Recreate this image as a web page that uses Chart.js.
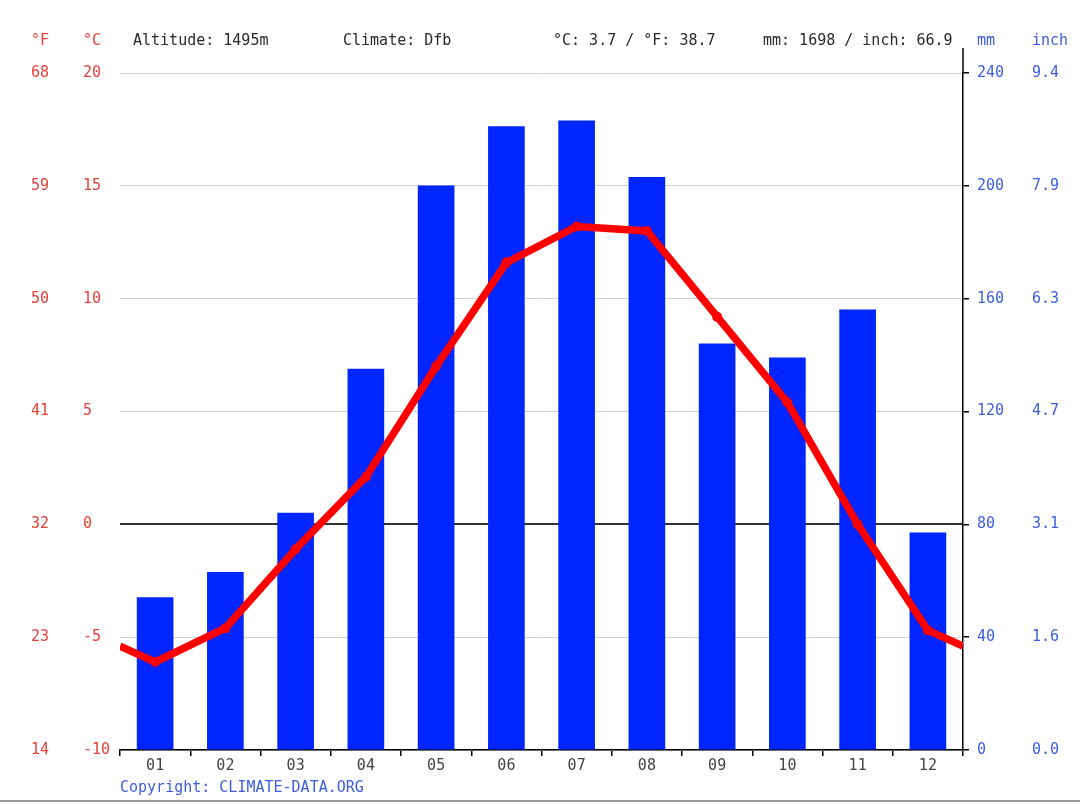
<!DOCTYPE html>
<html>
<head>
<meta charset="utf-8">
<script src="https://cdn.jsdelivr.net/npm/chart.js@4/dist/chart.umd.min.js"></script>
<style>
html,body{margin:0;padding:0;background:#fff;}
canvas{display:block;}
</style>
</head>
<body>
<canvas id="c" width="1080" height="804"></canvas>
<script>
// ---- data ----
const months = ['01','02','03','04','05','06','07','08','09','10','11','12'];
const precipitationMm = [54, 63, 84, 135, 200, 221, 223, 203, 144, 139, 156, 77];
const temperatureC = [-6.1, -4.6, -1.1, 2.1, 7.0, 11.6, 13.2, 13.0, 9.2, 5.4, 0.0, -4.7];
const edgeTempStart = -5.4;   // line value read at left plot edge
const edgeTempEnd = -5.4;     // line value read at right plot edge
const celsiusTicks = [-10, -5, 0, 5, 10, 15, 20];
const fahrenheitLabels = ['14', '23', '32', '41', '50', '59', '68'];
const mmTicks = [0, 40, 80, 120, 160, 200, 240];
const inchLabels = ['0.0', '1.6', '3.1', '4.7', '6.3', '7.9', '9.4'];
const headerTexts = {
  altitude: 'Altitude: 1495m',
  climate: 'Climate: Dfb',
  temp: '°C: 3.7 / °F: 38.7',
  precip: 'mm: 1698 / inch: 66.9'
};
const copyright = 'Copyright: CLIMATE-DATA.ORG';

// ---- style ----
const FONT = 'DejaVu Sans Mono';
const RED_TXT = '#e8403a';
const BLUE_TXT = '#3d5ee0';
const DARK_TXT = '#2a2a2a';

const barData = months.map((m, i) => ({x: i + 1, y: precipitationMm[i]}));
const lineData = [{x: 0.5, y: edgeTempStart}]
  .concat(months.map((m, i) => ({x: i + 1, y: temperatureC[i]})))
  .concat([{x: months.length + 0.5, y: edgeTempEnd}]);
const pointRadii = lineData.map((p, i) => (i === 0 || i === lineData.length - 1) ? 0 : 5);

const overlay = {
  id: 'overlay',
  afterDraw(chart) {
    const ctx = chart.ctx;
    const ca = chart.chartArea;
    ctx.save();
    ctx.font = '15px "' + FONT + '"';
    ctx.textBaseline = 'middle';
    ctx.textAlign = 'left';
    const hy = 41;
    ctx.fillStyle = RED_TXT;
    ctx.fillText('°F', chart.scales.yF.left, hy);
    ctx.fillText('°C', chart.scales.yC.left, hy);
    ctx.fillStyle = DARK_TXT;
    ctx.fillText(headerTexts.altitude, 133, hy);
    ctx.fillText(headerTexts.climate, 343, hy);
    ctx.fillText(headerTexts.temp, 553, hy);
    ctx.fillText(headerTexts.precip, 763, hy);
    ctx.fillStyle = BLUE_TXT;
    ctx.fillText('mm', chart.scales.yMM.left + 14, hy);
    ctx.fillText('inch', chart.scales.yIn.left, hy);
    // extension of right axis line above plot
    ctx.strokeStyle = '#000';
    ctx.lineWidth = 1.5;
    ctx.beginPath();
    ctx.moveTo(ca.right, 48);
    ctx.lineTo(ca.right, ca.top);
    ctx.stroke();
    // copyright
    ctx.fillStyle = BLUE_TXT;
    ctx.fillText(copyright, ca.left, 788);
    // bottom gray rule
    ctx.strokeStyle = '#9a9a9a';
    ctx.lineWidth = 2;
    ctx.beginPath();
    ctx.moveTo(0, 801);
    ctx.lineTo(1080, 801);
    ctx.stroke();
    ctx.restore();
  }
};

new Chart(document.getElementById('c'), {
  data: {
    datasets: [
      {
        type: 'line',
        label: 'Temperature',
        data: lineData,
        yAxisID: 'yC',
        xAxisID: 'x',
        borderColor: '#ff0000',
        backgroundColor: '#ff0000',
        borderWidth: 7.5,
        pointRadius: pointRadii,
        pointBackgroundColor: '#ff0000',
        pointBorderWidth: 0,
        tension: 0,
        order: 0
      },
      {
        type: 'bar',
        label: 'Precipitation',
        data: barData,
        yAxisID: 'yMM',
        xAxisID: 'x',
        backgroundColor: '#0026ff',
        barThickness: 36,
        order: 1
      }
    ]
  },
  options: {
    responsive: false,
    animation: false,
    devicePixelRatio: 1,
    layout: {padding: {left: 31, top: 73, right: 0, bottom: 0}},
    plugins: {legend: {display: false}, tooltip: {enabled: false}},
    scales: {
      x: {
        type: 'linear',
        position: 'bottom',
        offset: false,
        min: 0.5,
        max: months.length + 0.5,
        afterBuildTicks(scale) {
          const t = [];
          for (let i = 0; i <= months.length * 2; i++) t.push({value: 0.5 + i * 0.5});
          scale.ticks = t;
        },
        afterFit(scale) { scale.height = 54; },
        ticks: {
          autoSkip: false,
          maxRotation: 0,
          padding: 1,
          color: '#444',
          font: {family: FONT, size: 15},
          callback(v) { return Number.isInteger(v) ? months[v - 1] : ''; }
        },
        grid: {
          offset: false,
          drawOnChartArea: false,
          drawTicks: true,
          tickLength: 6,
          lineWidth: 1.5,
          color(ctx) { return (ctx.tick && Number.isInteger(ctx.tick.value)) ? 'rgba(0,0,0,0)' : '#000'; }
        },
        border: {display: true, color: '#000', width: 1.5}
      },
      yF: {
        type: 'linear',
        position: 'left',
        weight: 2,
        min: celsiusTicks[0],
        max: celsiusTicks[celsiusTicks.length - 1],
        afterBuildTicks(scale) { scale.ticks = celsiusTicks.map(v => ({value: v})); },
        afterFit(scale) { scale.width = 52; },
        ticks: {
          crossAlign: 'far',
          color: RED_TXT,
          font: {family: FONT, size: 15},
          callback(v, i) { return fahrenheitLabels[i]; }
        },
        grid: {display: false, drawTicks: false},
        border: {display: false}
      },
      yC: {
        type: 'linear',
        position: 'left',
        weight: 1,
        min: celsiusTicks[0],
        max: celsiusTicks[celsiusTicks.length - 1],
        afterBuildTicks(scale) { scale.ticks = celsiusTicks.map(v => ({value: v})); },
        afterFit(scale) { scale.width = 37; },
        ticks: {
          crossAlign: 'far',
          color: RED_TXT,
          font: {family: FONT, size: 15},
          callback(v) { return String(v); }
        },
        grid: {
          drawTicks: false,
          color(ctx) { return (ctx.tick && ctx.tick.value === 0) ? '#333' : '#d2d2d2'; },
          lineWidth(ctx) { return (ctx.tick && ctx.tick.value === 0) ? 2 : 1; }
        },
        border: {display: false}
      },
      yMM: {
        type: 'linear',
        position: 'right',
        weight: 1,
        min: mmTicks[0],
        max: mmTicks[mmTicks.length - 1],
        afterBuildTicks(scale) { scale.ticks = mmTicks.map(v => ({value: v})); },
        afterFit(scale) { scale.width = 69; },
        ticks: {
          padding: 8,
          color: BLUE_TXT,
          font: {family: FONT, size: 15},
          callback(v) { return String(v); }
        },
        grid: {drawOnChartArea: false, drawTicks: true, tickLength: 6, color: '#000', lineWidth: 1.5},
        border: {display: true, color: '#000', width: 1.5}
      },
      yIn: {
        type: 'linear',
        position: 'right',
        weight: 2,
        min: mmTicks[0],
        max: mmTicks[mmTicks.length - 1],
        afterBuildTicks(scale) { scale.ticks = mmTicks.map(v => ({value: v})); },
        afterFit(scale) { scale.width = 48; },
        ticks: {
          padding: 0,
          color: BLUE_TXT,
          font: {family: FONT, size: 15},
          callback(v, i) { return inchLabels[i]; }
        },
        grid: {display: false, drawTicks: false},
        border: {display: false}
      }
    }
  },
  plugins: [overlay]
});
</script>
</body>
</html>
